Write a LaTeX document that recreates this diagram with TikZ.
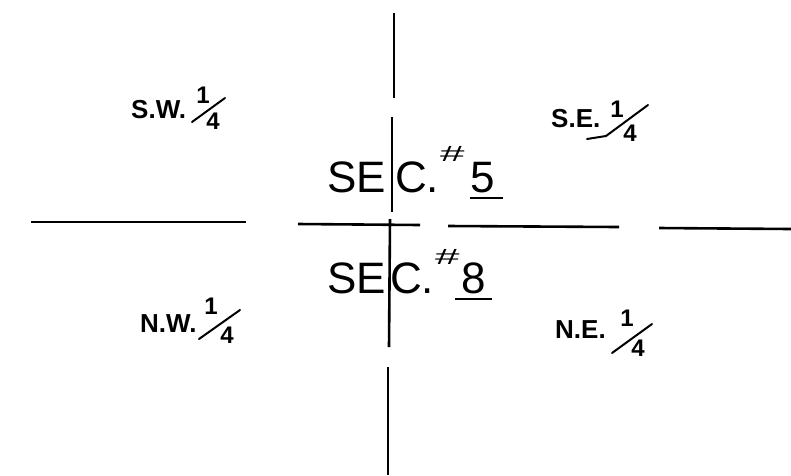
\documentclass[tikz,border=0pt]{standalone}
\usepackage{fontspec}
\setmainfont{Liberation Sans}
\begin{document}
\begin{tikzpicture}[x=1pt,y=-1pt,
  rule/.style={line width=2.6pt},
  slash/.style={line width=2pt,line cap=round},
  sec/.style={inner sep=0pt,anchor=base west,font=\fontsize{44}{44}\selectfont},
  hash/.style={inner sep=0pt,anchor=base west,font=\fontsize{22}{22}\selectfont},
  qlab/.style={inner sep=0pt,anchor=base west,font=\fontsize{26}{26}\selectfont\bfseries},
  frac/.style={inner sep=0pt,font=\fontsize{24}{24}\selectfont\bfseries}]
\fill[white] (0,0) rectangle (791,475);
\useasboundingbox (0,0) rectangle (791,475);
% vertical section line
\draw[rule] (394,13) -- (394,98);
\draw[rule] (392,117) -- (392,212);
\draw[rule] (390,219) -- (389,347);
\draw[rule] (388,367) -- (388,475);
% horizontal section line
\draw[rule] (31,222) -- (246,222);
\draw[rule] (298,224) -- (420,225);
\draw[rule] (448,226) -- (619,227);
\draw[rule] (659,228) -- (791,229);
% SEC 5
\node[sec] (se5) at (327,192) {SE};
\node[sec] (c5) at (395,192) {C.};
\node[hash] (h5) at (440,161) {\scalebox{2}[1]{\#}};
\node[sec] (n5) at (470,192) {5};
\draw[line width=2.2pt] (470,198) -- (503,198);
% SEC 8
\node[sec] (se8) at (327,293) {SE};
\node[sec] (c8) at (390,293) {C.};
\node[hash] (h8) at (435,264) {\scalebox{2}[1]{\#}};
\node[sec] (n8) at (461,293) {8};
\draw[line width=2.2pt] (455,299) -- (492,299);
% S.W.
\node[qlab] (sw) at (131,118) {S.W.};
\node[frac] (sw1) at (203,95) {1};
\node[frac] (sw4) at (213,121) {4};
\draw[slash] (192,122) -- (225,98);
% S.E.
\node[qlab] (se) at (551,127) {S.E.};
\node[frac] (se1) at (617,109) {1};
\node[frac] (se4) at (630,133) {4};
\draw[slash] (587,139) -- (606,136) -- (648,105);
% N.W.
\node[qlab] (nw) at (140,332) {N.W.};
\node[frac] (nw1) at (211,306) {1};
\node[frac] (nw4) at (227,335) {4};
\draw[slash] (199,339) -- (240,310);
% N.E.
\node[qlab] (ne) at (555,338) {N.E.};
\node[frac] (ne1) at (627,318) {1};
\node[frac] (ne4) at (638,348) {4};
\draw[slash] (612,353) -- (652,324);
\end{tikzpicture}
\end{document}
